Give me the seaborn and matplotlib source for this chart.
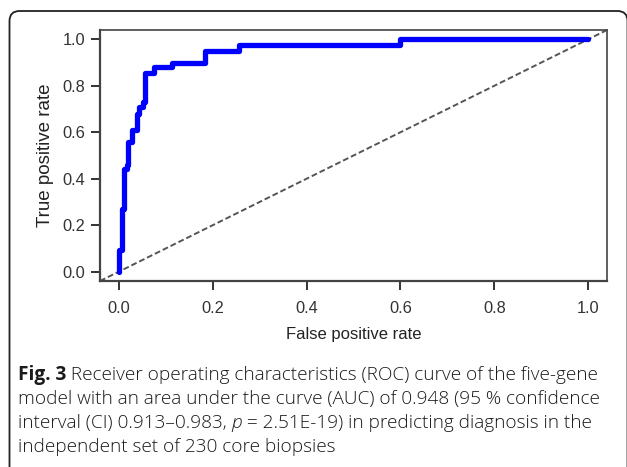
import matplotlib
matplotlib.use("Agg")
import matplotlib.pyplot as plt
import seaborn as sns
import pandas as pd
from matplotlib.patches import FancyBboxPatch

# ROC curve vertices (steps-post: fpr where each rise happens, tpr after the rise)
fpr = [0.0, 0.0, 0.007, 0.012, 0.017, 0.019, 0.028, 0.038, 0.043, 0.051,
       0.055, 0.075, 0.113, 0.183, 0.256, 0.599, 1.0]
tpr = [0.0, 0.094, 0.27, 0.44, 0.46, 0.56, 0.61, 0.68, 0.71, 0.73,
       0.857, 0.88, 0.90, 0.95, 0.975, 1.0, 1.0]
ticks = [0.0, 0.2, 0.4, 0.6, 0.8, 1.0]
tick_labels = ["0.0", "0.2", "0.4", "0.6", "0.8", "1.0"]
x_label = "False positive rate"
y_label = "True positive rate"
caption_lines = [
    [("Fig. 3", "bold", "normal"), (" Receiver operating characteristics (ROC) curve of the five-gene", 300, "normal")],
    [("model with an area under the curve (AUC) of 0.948 (95 % confidence", 300, "normal")],
    [("interval (CI) 0.913\u20130.983, ", 300, "normal"), ("p", 300, "italic"),
     (" = 2.51E-19) in predicting diagnosis in the", 300, "normal")],
    [("independent set of 230 core biopsies", 300, "normal")],
]

sns.set_theme(style="white")
plt.rcParams["font.family"] = ["Liberation Sans", "DejaVu Sans"]

W, H = 627, 467
fig = plt.figure(figsize=(W / 100, H / 100), dpi=100)
fig.patch.set_facecolor("white")

# outer rounded frame
frame = FancyBboxPatch((9.5 / W, -30 / H), (627.5 - 9.5) / W, (H - 11 + 30) / H,
                       boxstyle="round,pad=0,rounding_size=0.016",
                       transform=fig.transFigure, fill=False,
                       edgecolor="#222222", linewidth=1.3, mutation_aspect=W / H)
fig.patches.append(frame)

ax = fig.add_axes([100 / W, (H - 281) / H, (607 - 100) / W, (281 - 30) / H])
df = pd.DataFrame({"fpr": fpr, "tpr": tpr})
ax.axline((0, 0), slope=1, color="#555555", linestyle=(0, (3, 1.5)), linewidth=1.4, zorder=1)
sns.lineplot(data=df, x="fpr", y="tpr", ax=ax, estimator=None, sort=False,
             drawstyle="steps-post", color="#0000ff", linewidth=3.8, zorder=3)

ax.set_xlim(-0.04, 1.04)
ax.set_ylim(-0.04, 1.04)
ax.set_xticks(ticks)
ax.set_xticklabels(tick_labels)
ax.set_yticks(ticks)
ax.set_yticklabels(tick_labels)
ax.tick_params(axis="both", which="both", direction="out", length=6.5, width=1.4,
               color="#333333", labelsize=11.8, labelcolor="#333333", pad=4,
               bottom=True, left=True)
ax.tick_params(axis="x", pad=8)
for side, sp in ax.spines.items():
    sp.set_visible(True)
    sp.set_color("#444444")
    sp.set_linewidth(1.6 if side in ("left", "bottom") else 1.2)
ax.set_xlabel(x_label, fontsize=12, color="#222222", labelpad=8)
ax.set_ylabel(y_label, fontsize=13.5, color="#222222", labelpad=6)
ax.grid(False)

# caption with mixed styles
renderer = fig.canvas.get_renderer()
baselines = [380, 404, 428, 452]
cap_font = ["Open Sans", "DejaVu Sans"]
cap_size = 13.7
for line, yb in zip(caption_lines, baselines):
    x = 18
    for txt, weight, style in line:
        t = fig.text(x / W, (H - yb) / H, txt, fontsize=cap_size, family=cap_font,
                     fontweight=weight, fontstyle=style, color="#1a1a1a",
                     ha="left", va="baseline")
        bb = t.get_window_extent(renderer=renderer)
        x = bb.x1

fig.savefig("out.png", dpi=100, facecolor="white")
